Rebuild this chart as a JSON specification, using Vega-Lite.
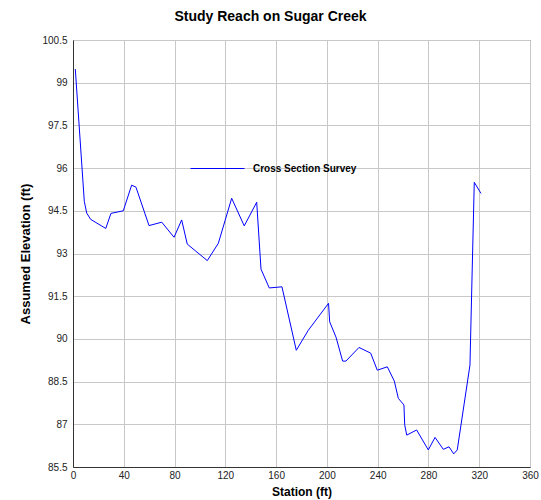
{
  "$schema": "https://vega.github.io/schema/vega-lite/v6.json",
  "width": 457,
  "height": 427,
  "autosize": {"type": "none"},
  "padding": {"left": 73, "top": 40, "right": 11, "bottom": 33},
  "background": "white",
  "title": {
    "text": "Study Reach on Sugar Creek",
    "font": "Liberation Sans",
    "fontSize": 14,
    "fontWeight": "bold",
    "color": "black",
    "anchor": "middle",
    "frame": "group",
    "dx": -31,
    "offset": 11
  },
  "config": {
    "view": {"stroke": "#555555", "strokeWidth": 1},
    "axis": {
      "labelFont": "Liberation Sans",
      "labelFontSize": 10,
      "labelColor": "#222222",
      "titleFont": "Liberation Sans",
      "titleFontSize": 12,
      "titleFontWeight": "bold",
      "titleColor": "black",
      "gridColor": "#c8c8c8",
      "gridWidth": 1,
      "gridOpacity": 1,
      "domainColor": "#333333",
      "ticks": false
    }
  },
  "data": {
    "values": [
      {"station": 1.8, "elev": 99.48, "series": "Cross Section Survey"},
      {"station": 8.9, "elev": 94.83, "series": "Cross Section Survey"},
      {"station": 10.8, "elev": 94.42, "series": "Cross Section Survey"},
      {"station": 13.9, "elev": 94.2, "series": "Cross Section Survey"},
      {"station": 25.8, "elev": 93.88, "series": "Cross Section Survey"},
      {"station": 29.9, "elev": 94.41, "series": "Cross Section Survey"},
      {"station": 39.6, "elev": 94.5, "series": "Cross Section Survey"},
      {"station": 46.2, "elev": 95.4, "series": "Cross Section Survey"},
      {"station": 49.6, "elev": 95.33, "series": "Cross Section Survey"},
      {"station": 59.9, "elev": 93.98, "series": "Cross Section Survey"},
      {"station": 69.9, "elev": 94.1, "series": "Cross Section Survey"},
      {"station": 79.6, "elev": 93.57, "series": "Cross Section Survey"},
      {"station": 85.6, "elev": 94.18, "series": "Cross Section Survey"},
      {"station": 90.0, "elev": 93.33, "series": "Cross Section Survey"},
      {"station": 105.8, "elev": 92.75, "series": "Cross Section Survey"},
      {"station": 114.5, "elev": 93.36, "series": "Cross Section Survey"},
      {"station": 125.0, "elev": 94.94, "series": "Cross Section Survey"},
      {"station": 134.9, "elev": 93.97, "series": "Cross Section Survey"},
      {"station": 144.7, "elev": 94.8, "series": "Cross Section Survey"},
      {"station": 148.1, "elev": 92.45, "series": "Cross Section Survey"},
      {"station": 154.6, "elev": 91.79, "series": "Cross Section Survey"},
      {"station": 164.6, "elev": 91.83, "series": "Cross Section Survey"},
      {"station": 175.9, "elev": 89.6, "series": "Cross Section Survey"},
      {"station": 185.3, "elev": 90.3, "series": "Cross Section Survey"},
      {"station": 201.3, "elev": 91.25, "series": "Cross Section Survey"},
      {"station": 202.2, "elev": 90.6, "series": "Cross Section Survey"},
      {"station": 207.2, "elev": 90.06, "series": "Cross Section Survey"},
      {"station": 212.4, "elev": 89.22, "series": "Cross Section Survey"},
      {"station": 215.0, "elev": 89.22, "series": "Cross Section Survey"},
      {"station": 225.3, "elev": 89.7, "series": "Cross Section Survey"},
      {"station": 234.5, "elev": 89.5, "series": "Cross Section Survey"},
      {"station": 239.7, "elev": 88.9, "series": "Cross Section Survey"},
      {"station": 247.6, "elev": 89.02, "series": "Cross Section Survey"},
      {"station": 253.1, "elev": 88.52, "series": "Cross Section Survey"},
      {"station": 256.3, "elev": 87.91, "series": "Cross Section Survey"},
      {"station": 260.7, "elev": 87.68, "series": "Cross Section Survey"},
      {"station": 261.3, "elev": 86.98, "series": "Cross Section Survey"},
      {"station": 262.9, "elev": 86.62, "series": "Cross Section Survey"},
      {"station": 270.7, "elev": 86.8, "series": "Cross Section Survey"},
      {"station": 279.9, "elev": 86.1, "series": "Cross Section Survey"},
      {"station": 285.2, "elev": 86.54, "series": "Cross Section Survey"},
      {"station": 291.7, "elev": 86.12, "series": "Cross Section Survey"},
      {"station": 296.2, "elev": 86.21, "series": "Cross Section Survey"},
      {"station": 299.9, "elev": 85.96, "series": "Cross Section Survey"},
      {"station": 302.7, "elev": 86.1, "series": "Cross Section Survey"},
      {"station": 312.7, "elev": 89.08, "series": "Cross Section Survey"},
      {"station": 316.1, "elev": 95.5, "series": "Cross Section Survey"},
      {"station": 321.4, "elev": 95.11, "series": "Cross Section Survey"}
    ]
  },
  "mark": {"type": "line", "strokeWidth": 1, "interpolate": "linear"},
  "encoding": {
    "x": {
      "field": "station",
      "type": "quantitative",
      "title": "Station (ft)",
      "scale": {"domain": [0, 360], "nice": false, "zero": false},
      "axis": {"values": [0, 40, 80, 120, 160, 200, 240, 280, 320, 360], "labelPadding": 3, "titlePadding": 6, "labelFlush": false}
    },
    "y": {
      "field": "elev",
      "type": "quantitative",
      "title": "Assumed Elevation (ft)",
      "scale": {"domain": [85.5, 100.5], "nice": false, "zero": false},
      "axis": {"values": [85.5, 87, 88.5, 90, 91.5, 93, 94.5, 96, 97.5, 99, 100.5], "format": ".1~f", "labelPadding": 6, "titlePadding": 9, "titleFontSize": 13, "labelFlush": false}
    },
    "color": {
      "field": "series",
      "type": "nominal",
      "scale": {"range": ["#0000ff"]},
      "legend": {
        "title": null,
        "orient": "none",
        "legendX": 117,
        "legendY": 101,
        "padding": 0,
        "symbolType": "M-1,0H1",
        "symbolSize": 2916,
        "symbolStrokeWidth": 1,
        "labelFont": "Liberation Sans",
        "labelFontSize": 10,
        "labelFontWeight": "bold",
        "labelColor": "black",
        "labelOffset": 8
      }
    }
  }
}
